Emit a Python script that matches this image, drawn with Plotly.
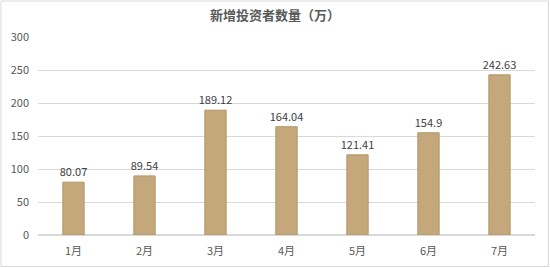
import plotly.graph_objects as go

months = ["1月", "2月", "3月", "4月", "5月", "6月", "7月"]
investors = [80.07, 89.54, 189.12, 164.04, 121.41, 154.9, 242.63]
labels = ["80.07", "89.54", "189.12", "164.04", "121.41", "154.9", "242.63"]
title_text = "新增投资者数量（万）"

W, H = 550, 268
ml, mr, mt, mb = 38, 15, 37, 33
pw, ph = W - ml - mr, H - mt - mb

def px_to_paper_x(px):
    return (px - ml) / pw

def px_to_paper_y(py):
    return (H - mb - py) / ph

font = "Noto Sans CJK SC, Microsoft YaHei, sans-serif"

fig = go.Figure(go.Bar(
    x=months, y=investors, text=labels, textposition="outside",
    constraintext="none",
    textfont=dict(size=11, color="#404040", family=font),
    marker=dict(color="#C4A87B", line=dict(color="#B39566", width=1)),
    cliponaxis=False,
))

fig.update_layout(
    width=W, height=H,
    margin=dict(l=ml, r=mr, t=mt, b=mb),
    paper_bgcolor="white", plot_bgcolor="white",
    bargap=0.7,
    showlegend=False,
    uniformtext=dict(minsize=11, mode="show"),
    title=dict(text=title_text, x=0.5, xanchor="center", y=1 - 15 / H, yanchor="middle",
               font=dict(size=13, color="#595959", family=font, weight="bold")),
    font=dict(family=font, size=11, color="#595959"),
    xaxis=dict(showgrid=False, showline=False, ticks="", tickfont=dict(size=11, color="#595959"),
               ticklabelstandoff=8, automargin=False),
    yaxis=dict(range=[0, 300], dtick=50, showgrid=True, gridcolor="#D9D9D9", gridwidth=1,
               zeroline=True, zerolinecolor="#D9D9D9", showline=False, ticks="",
               tickfont=dict(size=11, color="#595959"), ticklabelstandoff=8, automargin=False),
    shapes=[dict(type="rect", xref="paper", yref="paper",
                 x0=px_to_paper_x(1), x1=px_to_paper_x(548.5),
                 y0=px_to_paper_y(266.5), y1=px_to_paper_y(1),
                 line=dict(color="#D9D9D9", width=1), fillcolor="rgba(0,0,0,0)", layer="below")],
)

fig.write_html("out.html")
